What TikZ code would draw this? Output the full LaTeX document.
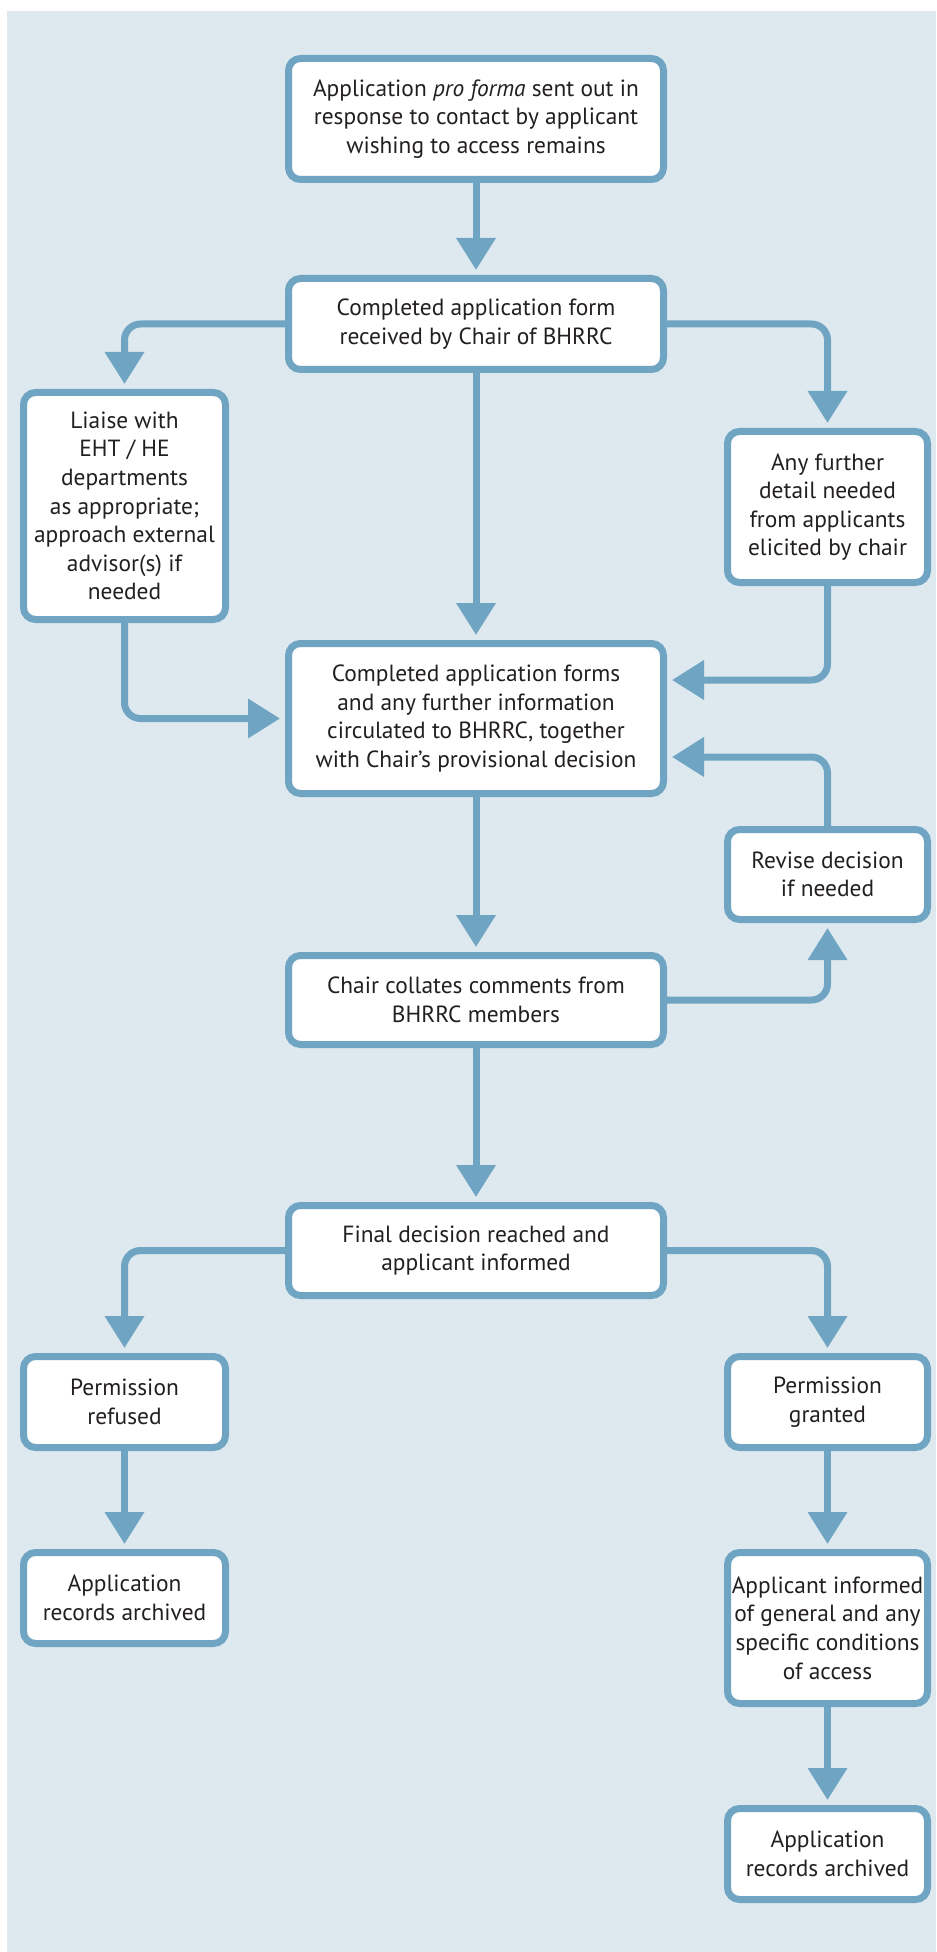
\documentclass[tikz,border=0pt]{standalone}
\usepackage{fontspec}
\setmainfont{PT Sans}
\usetikzlibrary{arrows.meta}
\definecolor{panel}{HTML}{DDE9EF}
\definecolor{edge}{HTML}{6FA5C2}
\definecolor{ink}{HTML}{231F20}
\begin{document}
\begin{tikzpicture}[x=0.5pt, y=-0.5pt,
    box/.style={draw=edge, line width=3.5pt, fill=white, rounded corners=6pt,
      align=center, inner sep=0pt, text=ink, font=\fontsize{11.7}{14.3}\selectfont},
    link/.style={draw=edge, line width=3.5pt, rounded corners=8pt,
      -{Triangle[length=16pt,width=19pt]}, shorten >=2.5pt}]
    \useasboundingbox (0,0) rectangle (936,1952);
    \fill[panel] (7,11) rectangle (936,1952);
    % centre column
    \node[box, minimum width=187.5pt, minimum height=60.5pt] (top) at (476,119)
      {Application \textit{pro forma} sent out in\\response to contact by applicant\\wishing to access remains};
    \node[box, minimum width=187.5pt, minimum height=45.5pt] (recv) at (476,324)
      {Completed application form\\received by Chair of BHRRC};
    \node[box, minimum width=187.5pt, minimum height=75pt] (circ) at (476,718.5)
      {Completed application forms\\and any further information\\circulated to BHRRC, together\\with Chair’s provisional decision};
    \node[box, minimum width=187.5pt, minimum height=44.5pt] (collate) at (476,1000)
      {Chair collates comments from\\BHRRC members};
    \node[box, minimum width=187.5pt, minimum height=45pt] (final) at (476,1250.5)
      {Final decision reached and\\applicant informed};
    % left column
    \node[box, minimum width=101pt, minimum height=113.5pt] (liaise) at (124.5,506)
      {Liaise with\\EHT / HE\\departments\\as appropriate;\\approach external\\advisor(s) if\\needed};
    \node[box, minimum width=101pt, minimum height=45.5pt] (refused) at (124.5,1402)
      {Permission\\refused};
    \node[box, minimum width=101pt, minimum height=45.5pt] (archL) at (124.5,1598)
      {Application\\records archived};
    % right column
    \node[box, minimum width=100pt, minimum height=75.5pt] (further) at (827.5,507)
      {Any further\\detail needed\\from applicants\\elicited by chair};
    \node[box, minimum width=100pt, minimum height=45pt] (revise) at (827.5,874.5)
      {Revise decision\\if needed};
    \node[box, minimum width=100pt, minimum height=45.5pt] (granted) at (827.5,1402)
      {Permission\\granted};
    \node[box, minimum width=100pt, minimum height=75.5pt] (informed) at (827.5,1628)
      {Applicant informed\\of general and any\\specific conditions\\of access};
    \node[box, minimum width=100pt, minimum height=45.5pt] (archR) at (827.5,1854)
      {Application\\records archived};
    % connectors
    \draw[link] (top) -- (recv);
    \draw[link] (recv.west) -| (liaise.north);
    \draw[link] (recv.east) -| (further.north);
    \draw[link] (recv) -- (circ);
    \draw[link] (liaise.south) |- (circ.west);
    \draw[link] (further.south) |- ([yshift=19.25pt]circ.east);
    \draw[link] (revise.north) |- ([yshift=-19.25pt]circ.east);
    \draw[link] (circ) -- (collate);
    \draw[link] (collate.east) -| (revise.south);
    \draw[link] (collate) -- (final);
    \draw[link] (final.west) -| (refused.north);
    \draw[link] (final.east) -| (granted.north);
    \draw[link] (refused) -- (archL);
    \draw[link] (granted) -- (informed);
    \draw[link] (informed) -- (archR);
\end{tikzpicture}
\end{document}
